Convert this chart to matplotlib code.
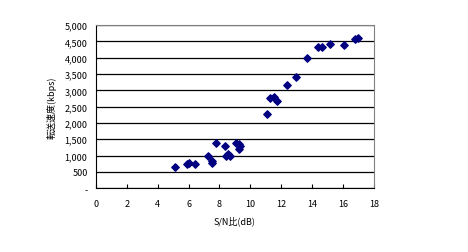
import matplotlib
matplotlib.use("Agg")
import matplotlib.pyplot as plt
from matplotlib.ticker import FuncFormatter

plt.rcParams["font.family"] = ["Noto Sans CJK JP", "DejaVu Sans"]

# Data (S/N ratio in dB vs. transfer rate in kbps)
snr = [5.10, 5.87, 6.02, 6.39, 7.25, 7.49, 7.49, 7.80, 8.35, 8.40, 8.57, 8.68,
       9.07, 9.26, 9.35, 9.24, 11.05, 11.27, 11.53, 11.74, 12.37, 12.95,
       13.66, 14.38, 14.64, 15.16, 16.06, 16.79, 16.97]
rate = [640, 740, 770, 730, 1000, 820, 760, 1400, 1280, 980, 1040, 1000,
        1400, 1350, 1300, 1210, 2270, 2780, 2810, 2660, 3150, 3420,
        4000, 4330, 4330, 4430, 4400, 4560, 4590]

x_ticks = [0, 2, 4, 6, 8, 10, 12, 14, 16, 18]
y_ticks = [0, 500, 1000, 1500, 2000, 2500, 3000, 3500, 4000, 4500, 5000]


def fmt_y(v, pos):
    if v == 0:
        return "-"
    return "{:,.0f}".format(v)


fig = plt.figure(figsize=(4.68, 2.53), dpi=100)
ax = fig.add_axes([0.205, 0.252, 0.594, 0.645])

ax.scatter(snr, rate, marker="D", s=14, color="#000080", zorder=3)

ax.set_xlim(0, 18)
ax.set_ylim(0, 5000)
ax.set_xticks(x_ticks)
ax.set_yticks(y_ticks)
ax.yaxis.set_major_formatter(FuncFormatter(fmt_y))
ax.grid(axis="y", color="black", linewidth=0.9)
ax.set_axisbelow(True)

for side in ["top", "right"]:
    ax.spines[side].set_color("#808080")
for side in ["left", "bottom"]:
    ax.spines[side].set_color("black")

ax.tick_params(axis="x", direction="in", length=3, labelsize=6.5, pad=8)
ax.tick_params(axis="y", length=0, labelsize=6.5, pad=6)

ax.set_xlabel("S/N比(dB)", fontsize=6.5, labelpad=5)
ax.set_ylabel("転送速度(kbps)", fontsize=6.5, labelpad=6)

fig.savefig("out.png", dpi=100)
